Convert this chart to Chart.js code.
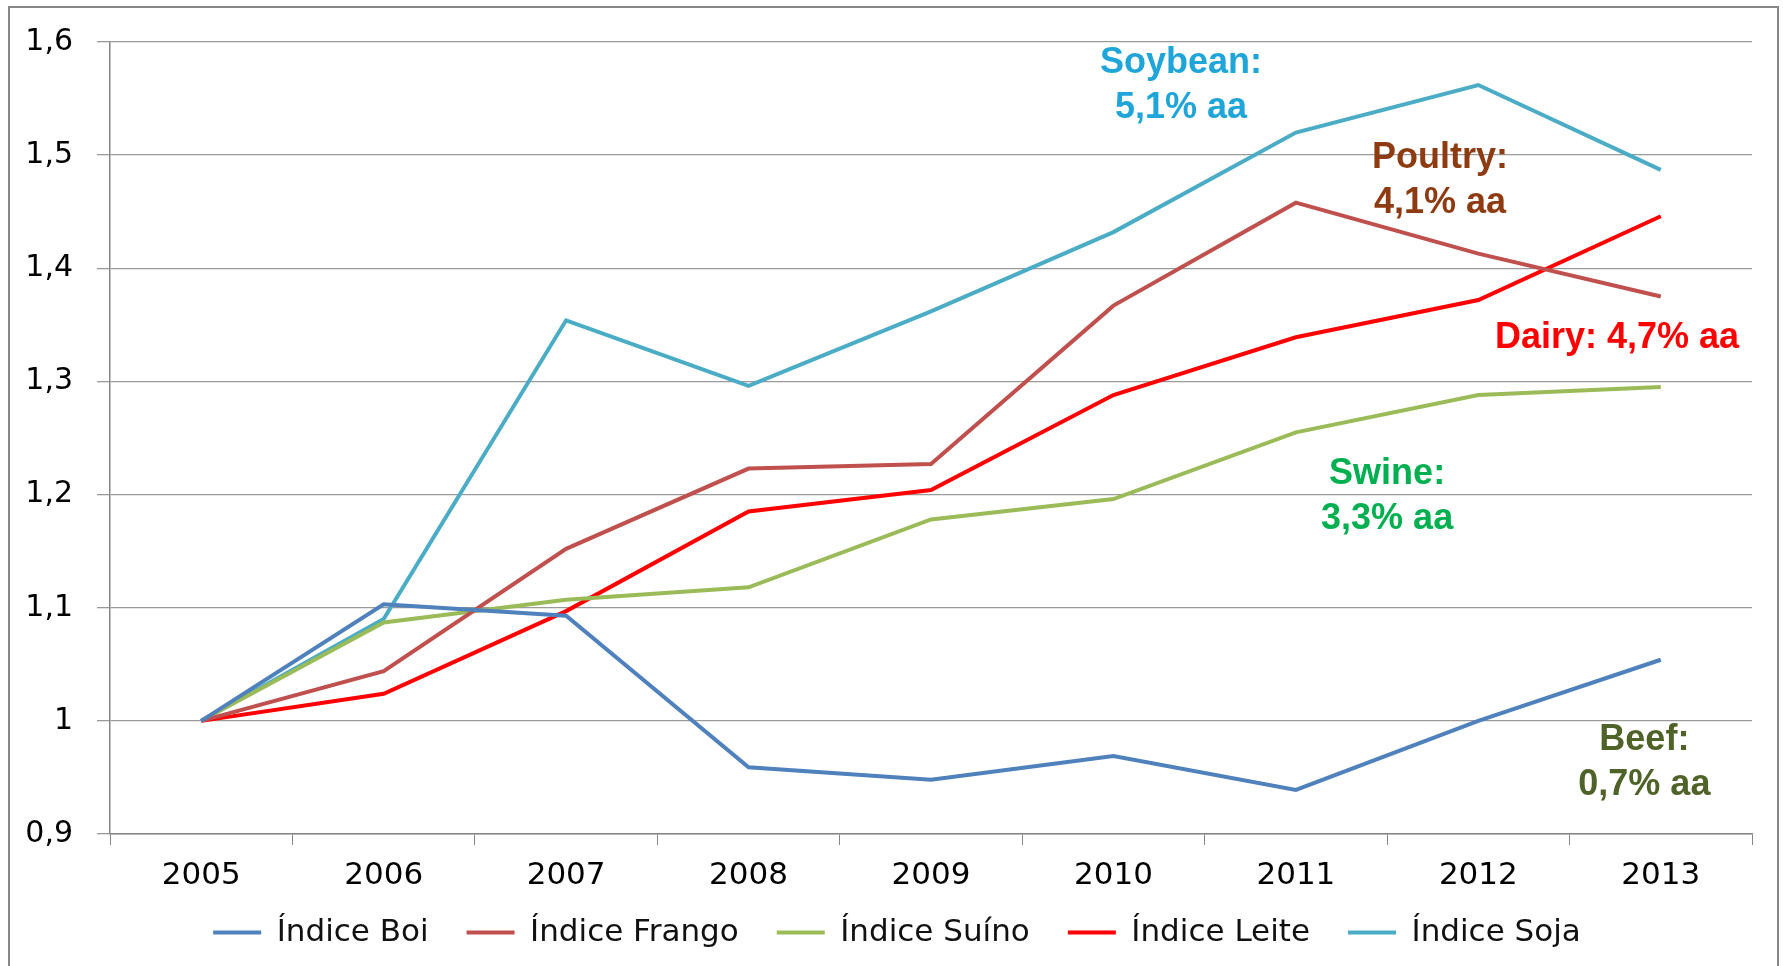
<!DOCTYPE html>
<html>
<head>
<meta charset="utf-8">
<script src="https://cdn.jsdelivr.net/npm/chart.js@4.4.1/dist/chart.umd.min.js"></script>
<style>
  html, body { margin:0; padding:0; background:#fff; }
  #wrap { position:relative; width:1783px; height:966px; }
</style>
</head>
<body>
<div id="wrap"><canvas id="c" width="1783" height="966"></canvas></div>
<script>
// data
const years  = ['2005','2006','2007','2008','2009','2010','2011','2012','2013'];
const boi    = [1.000, 1.103, 1.093, 0.959, 0.948, 0.969, 0.939, 1.000, 1.054];
const frango = [1.000, 1.044, 1.152, 1.223, 1.227, 1.367, 1.458, 1.413, 1.375];
const suino  = [1.000, 1.087, 1.107, 1.118, 1.178, 1.196, 1.255, 1.288, 1.295];
const leite  = [1.000, 1.024, 1.097, 1.185, 1.204, 1.288, 1.339, 1.372, 1.446];
const soja   = [1.000, 1.090, 1.354, 1.296, 1.362, 1.432, 1.520, 1.562, 1.487];

const seriesNames  = ['Índice Boi','Índice Frango','Índice Suíno','Índice Leite','Índice Soja'];
const seriesColors = ['#4F81BD','#C0504D','#9BBB59','#FF0000','#4BACC6'];

// growth-rate notes (anchored in category index / value space)
const noteLines  = [['Soybean:','5,1% aa'], ['Poultry:','4,1% aa'], ['Dairy: 4,7% aa'], ['Swine:','3,3% aa'], ['Beef:','0,7% aa']];
const noteColors = ['#1FA5DA', '#8E3B12', '#FF0000', '#00B050', '#4F6228'];
const noteAt     = [[5.37, 1.581], [6.79, 1.497], [7.76, 1.338], [6.50, 1.218], [7.91, 0.983]];

Chart.defaults.font.family = '"DejaVu Sans", sans-serif';
Chart.defaults.color = '#000';

const frame = {
  id:'frame',
  beforeDraw(chart) {
    const ctx = chart.ctx;
    ctx.save();
    ctx.fillStyle = '#fff';
    ctx.fillRect(0, 0, chart.width, chart.height);
    ctx.strokeStyle = '#878787';
    ctx.lineWidth = 2;
    ctx.strokeRect(9, 7, 1769, 980);
    ctx.restore();
  }
};

const notes = {
  id:'notes',
  afterDatasetsDraw(chart) {
    const { ctx, scales:{ x, y } } = chart;
    ctx.save();
    ctx.font = 'bold 36px "Liberation Sans", Arial, sans-serif';
    ctx.textAlign = 'center';
    ctx.textBaseline = 'middle';
    noteLines.forEach((lines, i) => {
      const px = x.getPixelForValue(noteAt[i][0]);
      const py = y.getPixelForValue(noteAt[i][1]);
      ctx.fillStyle = noteColors[i];
      lines.forEach((t, k) => ctx.fillText(t, px, py + k * 45));
    });
    ctx.restore();
  }
};

const sets = [boi, frango, suino, leite, soja].map((d, i) => ({
  label: seriesNames[i], data: d,
  borderColor: seriesColors[i], backgroundColor: seriesColors[i],
  borderWidth: 4, pointRadius: 0, tension: 0, pointStyle: 'line'
}));

const noClip = () => undefined;

new Chart(document.getElementById('c'), {
  type: 'line',
  data: { labels: years, datasets: sets },
  plugins: [frame, notes],
  options: {
    responsive:false, animation:false,
    layout:{ padding:{ top:36, right:31, left:42, bottom:8 } },
    plugins:{
      legend:{ position:'bottom',
        labels:{ usePointStyle:true, pointStyleWidth:48, padding:38, color:'#111',
          font:{ size:31 } } },
      tooltip:{ enabled:false }
    },
    scales:{
      x:{ offset:true,
        grid:{ offset:true, drawOnChartArea:false, drawTicks:true, tickLength:11, color:'#868686' },
        border:{ color:'#868686', width:1.5 },
        ticks:{ font:{ size:31 }, padding:12, maxRotation:0 },
        // labels may spill outside the narrow axis boxes
        afterFit(s){ s.height = 45; s._computeLabelArea = noClip; } },
      y:{ min:0.9, max:1.6,
        grid:{ color:'#9a9a9a', lineWidth:1.3, tickLength:13 },
        border:{ color:'#868686', width:1.5 },
        ticks:{ stepSize:0.1, font:{ size:30 }, padding:24,
          callback: v => String(Math.round(v * 10) / 10).replace('.', ',') },
        afterFit(s){ s.width = 68; s._computeLabelArea = noClip; } }
    }
  }
});
</script>
</body>
</html>
